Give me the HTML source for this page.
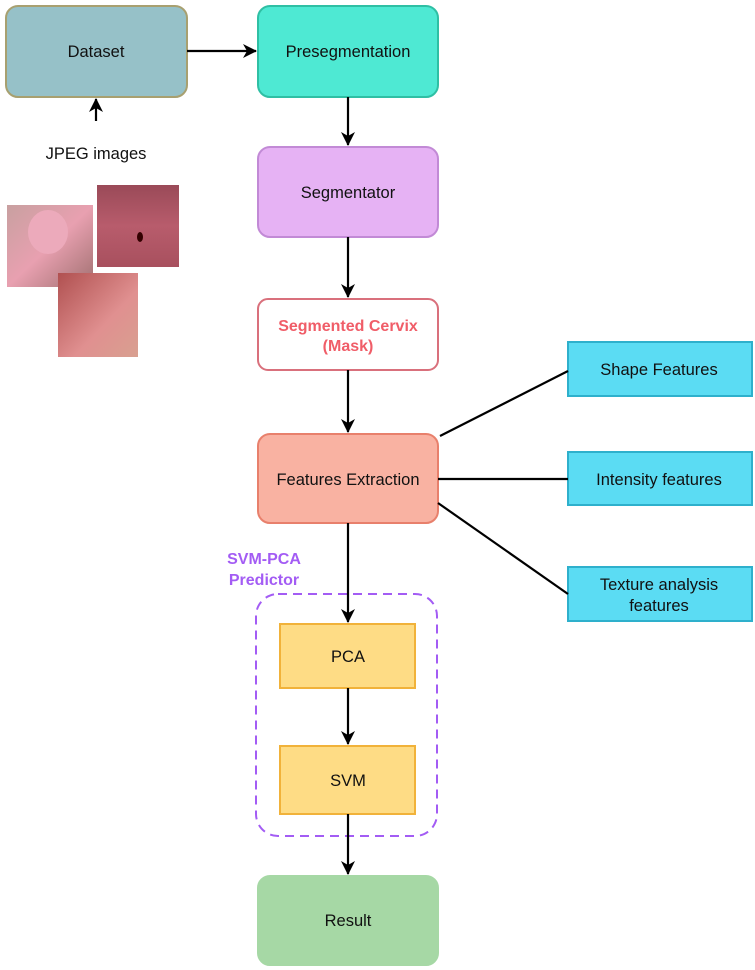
<!DOCTYPE html>
<html><head><meta charset="utf-8"><style>
html,body{margin:0;padding:0;background:#fff;}
svg{display:block;font-family:"Liberation Sans",sans-serif;}
</style></head><body>
<svg width="755" height="970" viewBox="0 0 755 970" xmlns="http://www.w3.org/2000/svg">
<defs>
<marker id="a" markerWidth="14" markerHeight="14" refX="13" refY="7" orient="auto" markerUnits="userSpaceOnUse">
<path d="M0,0 L14,7 L0,14 L4,7 Z" fill="#000"/></marker>
<linearGradient id="g1" x1="0" y1="0" x2="1" y2="1"><stop offset="0" stop-color="#c8a0a0"/><stop offset="0.5" stop-color="#e8a0b0"/><stop offset="1" stop-color="#a07070"/></linearGradient>
<linearGradient id="g2" x1="0" y1="0" x2="0" y2="1"><stop offset="0" stop-color="#9a4a58"/><stop offset="0.5" stop-color="#b85c6c"/><stop offset="1" stop-color="#a8505e"/></linearGradient>
<linearGradient id="g3" x1="0" y1="0" x2="1" y2="1"><stop offset="0" stop-color="#b05050"/><stop offset="0.6" stop-color="#e09090"/><stop offset="1" stop-color="#d8a090"/></linearGradient>
</defs>
<g stroke-width="2">
<rect x="6" y="6" width="181" height="91" rx="12" fill="#96c1c8" stroke="#a8a070"/>
<rect x="258" y="6" width="180" height="91" rx="12" fill="#4ee9d3" stroke="#2fbfa4"/>
<rect x="258" y="147" width="180" height="90" rx="12" fill="#e6b2f4" stroke="#c28ad6"/>
<rect x="258" y="299" width="180" height="71" rx="10" fill="#fff" stroke="#d9707c"/>
<rect x="258" y="434" width="180" height="89" rx="12" fill="#f9b2a2" stroke="#e8806c"/>
<rect x="568" y="342" width="184" height="54" fill="#5bdcf3" stroke="#2eb0cc"/>
<rect x="568" y="452" width="184" height="53" fill="#5bdcf3" stroke="#2eb0cc"/>
<rect x="568" y="567" width="184" height="54" fill="#5bdcf3" stroke="#2eb0cc"/>
<rect x="256" y="594" width="181" height="242" rx="22" fill="none" stroke="#a35cf4" stroke-dasharray="9,6"/>
<rect x="280" y="624" width="135" height="64" fill="#fedc85" stroke="#f1b23a"/>
<rect x="280" y="746" width="135" height="68" fill="#fedc85" stroke="#f1b23a"/>
<rect x="258" y="876" width="180" height="89" rx="12" fill="#a6d8a5" stroke="#a6d8a5"/>
</g>
<g stroke="#000" stroke-width="2.2" fill="none">
<line x1="187" y1="51" x2="256" y2="51" marker-end="url(#a)"/>
<line x1="96" y1="121" x2="96" y2="99" marker-end="url(#a)"/>
<line x1="348" y1="97" x2="348" y2="145" marker-end="url(#a)"/>
<line x1="348" y1="237" x2="348" y2="297" marker-end="url(#a)"/>
<line x1="348" y1="370" x2="348" y2="432" marker-end="url(#a)"/>
<line x1="348" y1="523" x2="348" y2="622" marker-end="url(#a)"/>
<line x1="348" y1="688" x2="348" y2="744" marker-end="url(#a)"/>
<line x1="348" y1="814" x2="348" y2="874" marker-end="url(#a)"/>
<line x1="440" y1="436" x2="568" y2="371"/>
<line x1="438" y1="479" x2="568" y2="479"/>
<line x1="438" y1="503" x2="568" y2="594"/>
</g>
<rect x="7" y="205" width="86" height="82" fill="url(#g1)"/>
<ellipse cx="48" cy="232" rx="20" ry="22" fill="#ecaabb"/>
<rect x="97" y="185" width="82" height="82" fill="url(#g2)"/>
<ellipse cx="140" cy="237" rx="3" ry="5" fill="#300"/>
<rect x="58" y="273" width="80" height="84" fill="url(#g3)"/>
<g font-size="16.5" fill="#111" text-anchor="middle">
<text x="96" y="57">Dataset</text>
<text x="348" y="57">Presegmentation</text>
<text x="348" y="198">Segmentator</text>
<text x="96" y="159">JPEG images</text>
<text x="348" y="485">Features Extraction</text>
<text x="659" y="375">Shape Features</text>
<text x="659" y="485">Intensity features</text>
<text x="659" y="590">Texture analysis</text>
<text x="659" y="611">features</text>
<text x="348" y="662">PCA</text>
<text x="348" y="786">SVM</text>
<text x="348" y="926">Result</text>
</g>
<g font-size="16" font-weight="bold" fill="#f05d68" text-anchor="middle">
<text x="348" y="331">Segmented Cervix</text>
<text x="348" y="351">(Mask)</text>
</g>
<g font-size="16" font-weight="bold" fill="#a35cf4" text-anchor="middle">
<text x="264" y="564">SVM-PCA</text>
<text x="264" y="585">Predictor</text>
</g>
</svg>
</body></html>
